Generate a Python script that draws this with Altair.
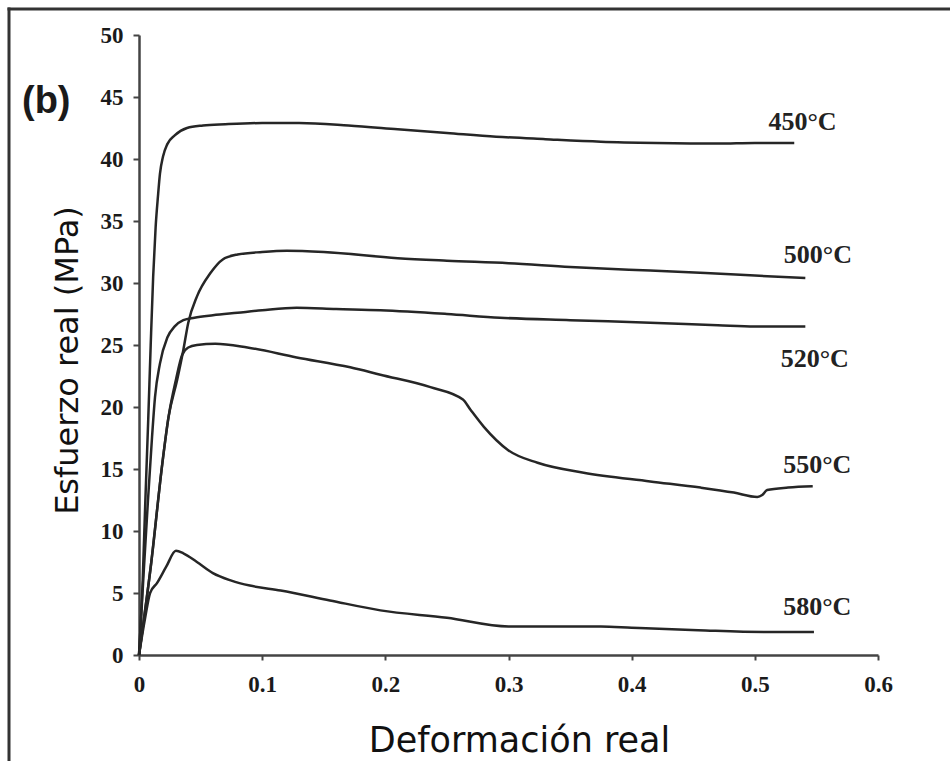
import altair as alt
import pandas as pd

# True stress-strain curves at five deformation temperatures
strain_450 = [0, 0.003, 0.005, 0.0075, 0.0095, 0.0115, 0.0135, 0.0154, 0.017, 0.0195, 0.023, 0.029,
              0.039, 0.052, 0.07, 0.10, 0.13, 0.17, 0.21, 0.25, 0.29, 0.33, 0.375, 0.42, 0.47,
              0.50, 0.532]
stress_450 = [0, 6.0, 12.0, 19.0, 25.0, 30.5, 34.5, 37.0, 38.8, 40.2, 41.2, 41.9,
              42.5, 42.7, 42.8, 42.9, 42.9, 42.7, 42.4, 42.1, 41.8, 41.6, 41.4, 41.3, 41.25,
              41.3, 41.3]

strain_500 = [0, 0.010, 0.019, 0.024, 0.031, 0.036, 0.040, 0.047, 0.058, 0.068, 0.08, 0.10,
              0.12, 0.15, 0.21, 0.25, 0.30, 0.35, 0.415, 0.46, 0.50, 0.541]
stress_500 = [0, 7.5, 15.5, 19.2, 22.2, 24.6, 26.8, 28.9, 30.8, 31.9, 32.3, 32.5,
              32.6, 32.5, 32.0, 31.8, 31.6, 31.3, 31.0, 30.8, 30.6, 30.4]

strain_520 = [0, 0.004, 0.0073, 0.0106, 0.013, 0.017, 0.023, 0.029, 0.036, 0.045, 0.06, 0.08,
              0.10, 0.128, 0.16, 0.196, 0.25, 0.293, 0.35, 0.415, 0.47, 0.50, 0.541]
stress_520 = [0, 7.0, 12.5, 17.6, 20.8, 23.5, 25.6, 26.5, 27.0, 27.2, 27.4, 27.6,
              27.8, 28.0, 27.9, 27.8, 27.5, 27.2, 27.0, 26.8, 26.6, 26.5, 26.5]

strain_550 = [0, 0.010, 0.019, 0.024, 0.030, 0.035, 0.040, 0.047, 0.062, 0.088, 0.128, 0.1715,
              0.196, 0.2366, 0.263, 0.269, 0.28, 0.30, 0.3236, 0.361, 0.415, 0.456, 0.483,
              0.502, 0.506, 0.51, 0.527, 0.547]
stress_550 = [0, 7.5, 15.5, 19.2, 22.2, 24.2, 24.8, 25.0, 25.1, 24.8, 24.0, 23.2,
              22.6, 21.6, 20.6, 19.8, 18.4, 16.5, 15.5, 14.7, 14.0, 13.5, 13.1,
              12.75, 12.9, 13.3, 13.5, 13.6]

strain_580 = [0, 0.005, 0.009, 0.0146, 0.022, 0.030, 0.036, 0.047, 0.060, 0.075, 0.09, 0.115,
              0.155, 0.196, 0.25, 0.30, 0.375, 0.40, 0.454, 0.51, 0.548]
stress_580 = [0, 3.0, 5.0, 5.8, 7.1, 8.4, 8.2, 7.5, 6.6, 6.0, 5.6, 5.2,
              4.4, 3.6, 3.0, 2.3, 2.3, 2.2, 2.0, 1.85, 1.85]

temperatures = ["450°C", "500°C", "520°C", "550°C", "580°C"]
strains = [strain_450, strain_500, strain_520, strain_550, strain_580]
stresses = [stress_450, stress_500, stress_520, stress_550, stress_580]

# Anchor points of the temperature labels (strain, stress)
label_strain = [0.511, 0.5235, 0.521, 0.523, 0.523]
label_stress = [42.3, 31.6, 23.2, 14.7, 3.2]

x_ticks = [0, 0.1, 0.2, 0.3, 0.4, 0.5, 0.6]
y_ticks = [0, 5, 10, 15, 20, 25, 30, 35, 40, 45, 50]

rows = []
for t, xs, ys in zip(temperatures, strains, stresses):
    for i, (sx, sy) in enumerate(zip(xs, ys)):
        rows.append({"temp": t, "strain": sx, "stress": sy, "i": i})
curves = pd.DataFrame(rows)
labels = pd.DataFrame({"temp": temperatures, "strain": label_strain, "stress": label_stress})

ink = "#262626"
axis_ink = "#444444"

x_enc = alt.X(
    "strain:Q",
    title="Deformación real",
    scale=alt.Scale(domain=[0, 0.6], nice=False),
    axis=alt.Axis(
        values=x_ticks, format="~g", grid=False,
        labelFont="Liberation Serif", labelFontWeight="bold", labelFontSize=23,
        labelColor="#1a1a1a", labelPadding=13, labelFlush=False,
        tickSize=5, tickColor=axis_ink, tickWidth=2,
        domainColor=axis_ink, domainWidth=2.5,
        titleFont="DejaVu Sans", titleFontSize=35, titleFontWeight="normal",
        titleColor="#111111", titleX=380, titleY=96,
        titleBaseline="alphabetic", titleAlign="center",
    ),
)
y_enc = alt.Y(
    "stress:Q",
    title="Esfuerzo real (MPa)",
    scale=alt.Scale(domain=[0, 50], nice=False),
    axis=alt.Axis(
        values=y_ticks, grid=False, labelOverlap=False,
        labelFont="Liberation Serif", labelFontWeight="bold", labelFontSize=23,
        labelColor="#1a1a1a", labelPadding=10, labelFlush=False,
        tickSize=6, tickColor=axis_ink, tickWidth=2,
        domainColor=axis_ink, domainWidth=2.5,
        titleFont="DejaVu Sans", titleFontSize=32, titleFontWeight="normal",
        titleColor="#111111", titleX=-62, titleY=325, titleAngle=270,
        titleBaseline="alphabetic", titleAlign="center",
    ),
)

lines = alt.Chart(curves).mark_line(
    color=ink, strokeWidth=2.5, interpolate="monotone"
).encode(x=x_enc, y=y_enc, detail="temp:N", order="i:Q")

temp_text = alt.Chart(labels).mark_text(
    font="Liberation Serif", fontWeight="bold", fontSize=26,
    align="left", baseline="alphabetic", color="#222222",
).encode(x="strain:Q", y="stress:Q", text="temp:N")

one = pd.DataFrame({"k": [0]})
frame_top = alt.Chart(one).mark_rule(color="#333333", strokeWidth=3, strokeCap="square").encode(
    x=alt.value(-130), x2=alt.value(815), y=alt.value(-26)
)
frame_left = alt.Chart(one).mark_rule(color="#333333", strokeWidth=3, strokeCap="square").encode(
    x=alt.value(-130), y=alt.value(-26), y2=alt.value(730)
)
panel_tag = alt.Chart(one).mark_text(
    text="(b)", font="Liberation Sans", fontWeight="bold", fontSize=38,
    align="left", baseline="alphabetic", color="#1a1a1a",
).encode(x=alt.value(-117), y=alt.value(78))

chart = alt.layer(frame_top, frame_left, panel_tag, lines, temp_text).properties(
    width=739,
    height=620,
    autosize=alt.AutoSizeParams(type="none"),
    padding={"left": 139, "top": 35, "right": 72, "bottom": 106},
    background="white",
).configure_view(stroke=None)

chart.save("out.html", embed_options={"renderer": "svg", "actions": False})
